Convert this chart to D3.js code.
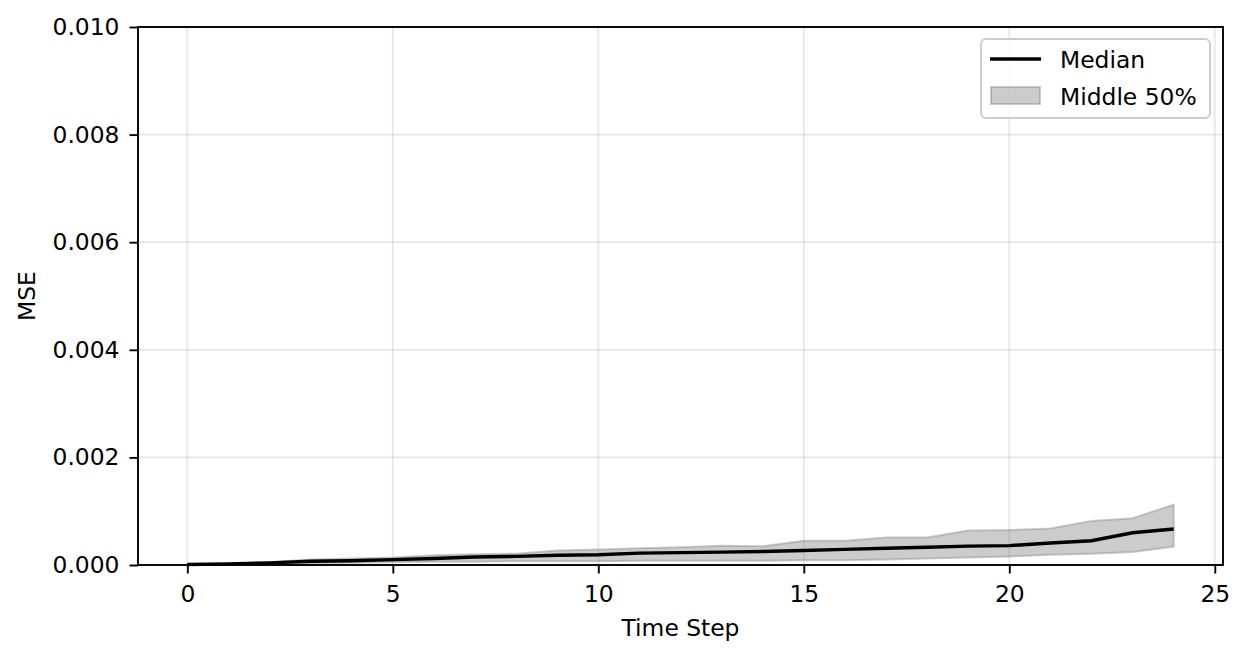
<!DOCTYPE html>
<html><head><meta charset="utf-8">
<script src="https://cdn.jsdelivr.net/npm/d3@7"></script>
<style>body{margin:0;background:#fff;} text{font-family:"DejaVu Sans",sans-serif;}</style>
</head><body><svg id="c" width="1247" height="658"></svg>
<script>
const steps = d3.range(0, 25);
const median = [0.00001,0.00002,0.00004,0.00007,0.00008,0.0001,0.00012,0.00015,0.00016,0.00018,0.00019,0.00022,0.00023,0.00024,0.00025,0.00027,0.00029,0.00031,0.00033,0.00035,0.00036,0.00041,0.00045,0.0006,0.00067];
const lower = [0,0.00001,0.00002,0.00003,0.00004,0.00005,0.00006,0.00006,0.00007,0.00007,0.00007,0.00008,0.00008,0.00008,0.00008,0.00009,0.00009,0.0001,0.00012,0.00014,0.00016,0.00019,0.00021,0.00024,0.00034];
const upper = [0.00001,0.00002,0.00005,0.0001,0.00012,0.00014,0.00018,0.0002,0.00021,0.00027,0.00029,0.00031,0.00033,0.00036,0.00035,0.00045,0.00045,0.00051,0.00051,0.00064,0.00065,0.00068,0.00082,0.00087,0.00112];
const xTicks = [0,5,10,15,20,25];
const yTicks = [0,0.002,0.004,0.006,0.008,0.010];
const legendLabels = ["Median","Middle 50%"];

const FS = 23.4;
const svg = d3.select("#c");
const L=138,R=1223,T=27,B=565;
const x = d3.scaleLinear().domain([-1.2,25.2]).range([L,R]);
const y = d3.scaleLinear().domain([0,0.010]).range([B,T]);

// grid
svg.append("g").selectAll("line").data(xTicks).join("line")
 .attr("x1",d=>x(d)).attr("x2",d=>x(d)).attr("y1",T).attr("y2",B)
 .attr("stroke","#b0b0b0").attr("stroke-opacity",0.3).attr("stroke-width",1.8);
svg.append("g").selectAll("line").data(yTicks).join("line")
 .attr("x1",L).attr("x2",R).attr("y1",d=>y(d)).attr("y2",d=>y(d))
 .attr("stroke","#b0b0b0").attr("stroke-opacity",0.3).attr("stroke-width",1.8);

// band
const area = d3.area().x((d,i)=>x(steps[i])).y0((d,i)=>y(lower[i])).y1((d,i)=>y(upper[i]));
svg.append("path").datum(steps).attr("d",area)
 .attr("fill","#808080").attr("fill-opacity",0.4)
 .attr("stroke","#808080").attr("stroke-opacity",0.4).attr("stroke-width",2);

// median
const line = d3.line().x((d,i)=>x(steps[i])).y((d,i)=>y(median[i]));
svg.append("path").datum(steps).attr("d",line).attr("fill","none").attr("stroke","#000").attr("stroke-width",3.4);

// axes
const xa = svg.append("g").attr("transform",`translate(0,${B})`)
 .call(d3.axisBottom(x).tickValues(xTicks).tickFormat(d3.format("d")).tickSize(8.5).tickPadding(12));
const ya = svg.append("g").attr("transform",`translate(${L},0)`)
 .call(d3.axisLeft(y).tickValues(yTicks).tickFormat(d3.format(".3f")).tickSize(8.5).tickPadding(10));
[xa,ya].forEach(a=>{a.select(".domain").remove();a.selectAll("text").attr("font-size",FS).attr("fill","#000").style("font-family","DejaVu Sans");a.selectAll("line").attr("stroke","#000").attr("stroke-width",1.9);});
svg.append("rect").attr("x",L).attr("y",T).attr("width",R-L).attr("height",B-T).attr("fill","none").attr("stroke","#000").attr("stroke-width",1.9);

svg.append("text").attr("x",(L+R)/2).attr("y",636).attr("text-anchor","middle").attr("font-size",FS).text("Time Step");
svg.append("text").attr("transform",`translate(35,${(T+B)/2}) rotate(-90)`).attr("text-anchor","middle").attr("font-size",FS).text("MSE");

// legend
const lg = svg.append("g");
lg.append("rect").attr("x",981).attr("y",39).attr("width",229).attr("height",79).attr("rx",5)
 .attr("fill","#fff").attr("fill-opacity",0.8).attr("stroke","#cccccc").attr("stroke-width",1.9);
lg.append("line").attr("x1",990).attr("x2",1041).attr("y1",59).attr("y2",59).attr("stroke","#000").attr("stroke-width",3.4);
lg.append("rect").attr("x",991).attr("y",87).attr("width",49).attr("height",17)
 .attr("fill","#808080").attr("fill-opacity",0.4).attr("stroke","#808080").attr("stroke-opacity",0.4).attr("stroke-width",2);
lg.selectAll("text.l").data(legendLabels).join("text").attr("class","l")
 .attr("x",1060).attr("y",(d,i)=>67.5+i*37).attr("font-size",FS).text(d=>d);
</script></body></html>
